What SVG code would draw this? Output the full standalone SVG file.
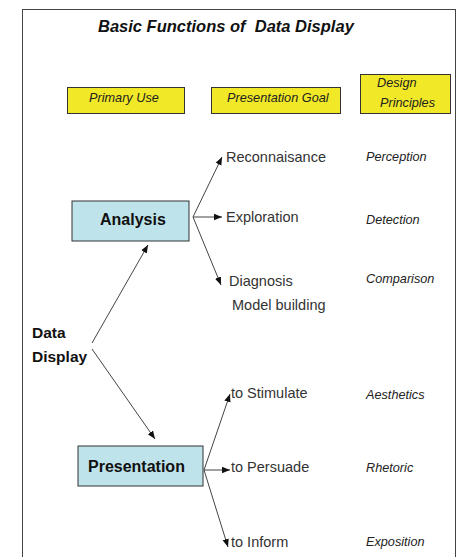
<svg xmlns="http://www.w3.org/2000/svg" width="460" height="557" viewBox="0 0 460 557">
<style>
text { font-family: "Liberation Sans", Arial, sans-serif; fill: #222; }
.title { font-size: 16.5px; font-weight: bold; font-style: italic; white-space: pre; fill: #111; }
.hdr { font-size: 12.7px; font-style: italic; fill: #222; }
.main { font-size: 16px; font-weight: bold; fill: #111; }
.dd { font-size: 15.5px; font-weight: bold; fill: #111; }
.goal { font-size: 14.5px; fill: #333; }
.prin { font-size: 12.7px; font-style: italic; fill: #222; }
.ybox { fill: #F1E827; stroke: #333; stroke-width: 1; }
.bbox { fill: #BEE3EA; stroke: #333; stroke-width: 1; }
.conn line { stroke: #444; stroke-width: 1; marker-end: url(#ah); }
</style>
<defs>
<marker id="ah" viewBox="0 0 10 10" refX="10" refY="5" markerWidth="8" markerHeight="8" markerUnits="userSpaceOnUse" orient="auto">
<path d="M0,1 L10,5 L0,9 Z" fill="#111"/>
</marker>
</defs>
<rect x="0" y="0" width="460" height="557" fill="#fff"/>
<rect x="22.5" y="9.5" width="433" height="560" fill="none" stroke="#444" stroke-width="1"/>
<text class="title" x="98" y="32">Basic Functions of  Data Display</text>
<g id="hdr-primary"><rect class="ybox" x="67.5" y="87.5" width="117" height="26"/><text class="hdr" x="89" y="102">Primary Use</text></g>
<g id="hdr-goal"><rect class="ybox" x="211.5" y="87.5" width="129" height="26"/><text class="hdr" x="227" y="102">Presentation Goal</text></g>
<g id="hdr-principles"><rect class="ybox" x="360.5" y="74.5" width="90" height="39"/><text class="hdr" x="377" y="87">Design</text><text class="hdr" x="380" y="107">Principles</text></g>
<g id="data-display"><text class="dd" x="32" y="338">Data</text><text class="dd" x="32" y="362">Display</text></g>
<g id="analysis"><rect class="bbox" x="72" y="201" width="117" height="40"/><text class="main" x="100" y="225">Analysis</text></g>
<g id="presentation"><rect class="bbox" x="78" y="446" width="125" height="40"/><text class="main" x="88" y="472">Presentation</text></g>
<g id="reconnaisance"><text class="goal" x="226" y="162">Reconnaisance</text></g>
<g id="exploration"><text class="goal" x="226" y="222">Exploration</text></g>
<g id="diagnosis"><text class="goal" x="229" y="286">Diagnosis</text><text class="goal" x="232" y="310">Model building</text></g>
<g id="stimulate"><text class="goal" x="231" y="398">to Stimulate</text></g>
<g id="persuade"><text class="goal" x="231" y="472">to Persuade</text></g>
<g id="inform"><text class="goal" x="231" y="547">to Inform</text></g>
<g id="perception"><text class="prin" x="366" y="161">Perception</text></g>
<g id="detection"><text class="prin" x="366" y="224">Detection</text></g>
<g id="comparison"><text class="prin" x="366" y="283">Comparison</text></g>
<g id="aesthetics"><text class="prin" x="366" y="399">Aesthetics</text></g>
<g id="rhetoric"><text class="prin" x="366" y="472">Rhetoric</text></g>
<g id="exposition"><text class="prin" x="366" y="546">Exposition</text></g>
<g id="connectors" class="conn">
<line x1="92" y1="343" x2="148" y2="245"/>
<line x1="92" y1="349" x2="155" y2="439"/>
<line x1="193" y1="217" x2="222" y2="157"/>
<line x1="193" y1="217" x2="222" y2="217"/>
<line x1="193" y1="217" x2="221" y2="285"/>
<line x1="204" y1="470" x2="230" y2="394"/>
<line x1="204" y1="470" x2="230" y2="470"/>
<line x1="204" y1="470" x2="228" y2="547"/>
</g>
</svg>
